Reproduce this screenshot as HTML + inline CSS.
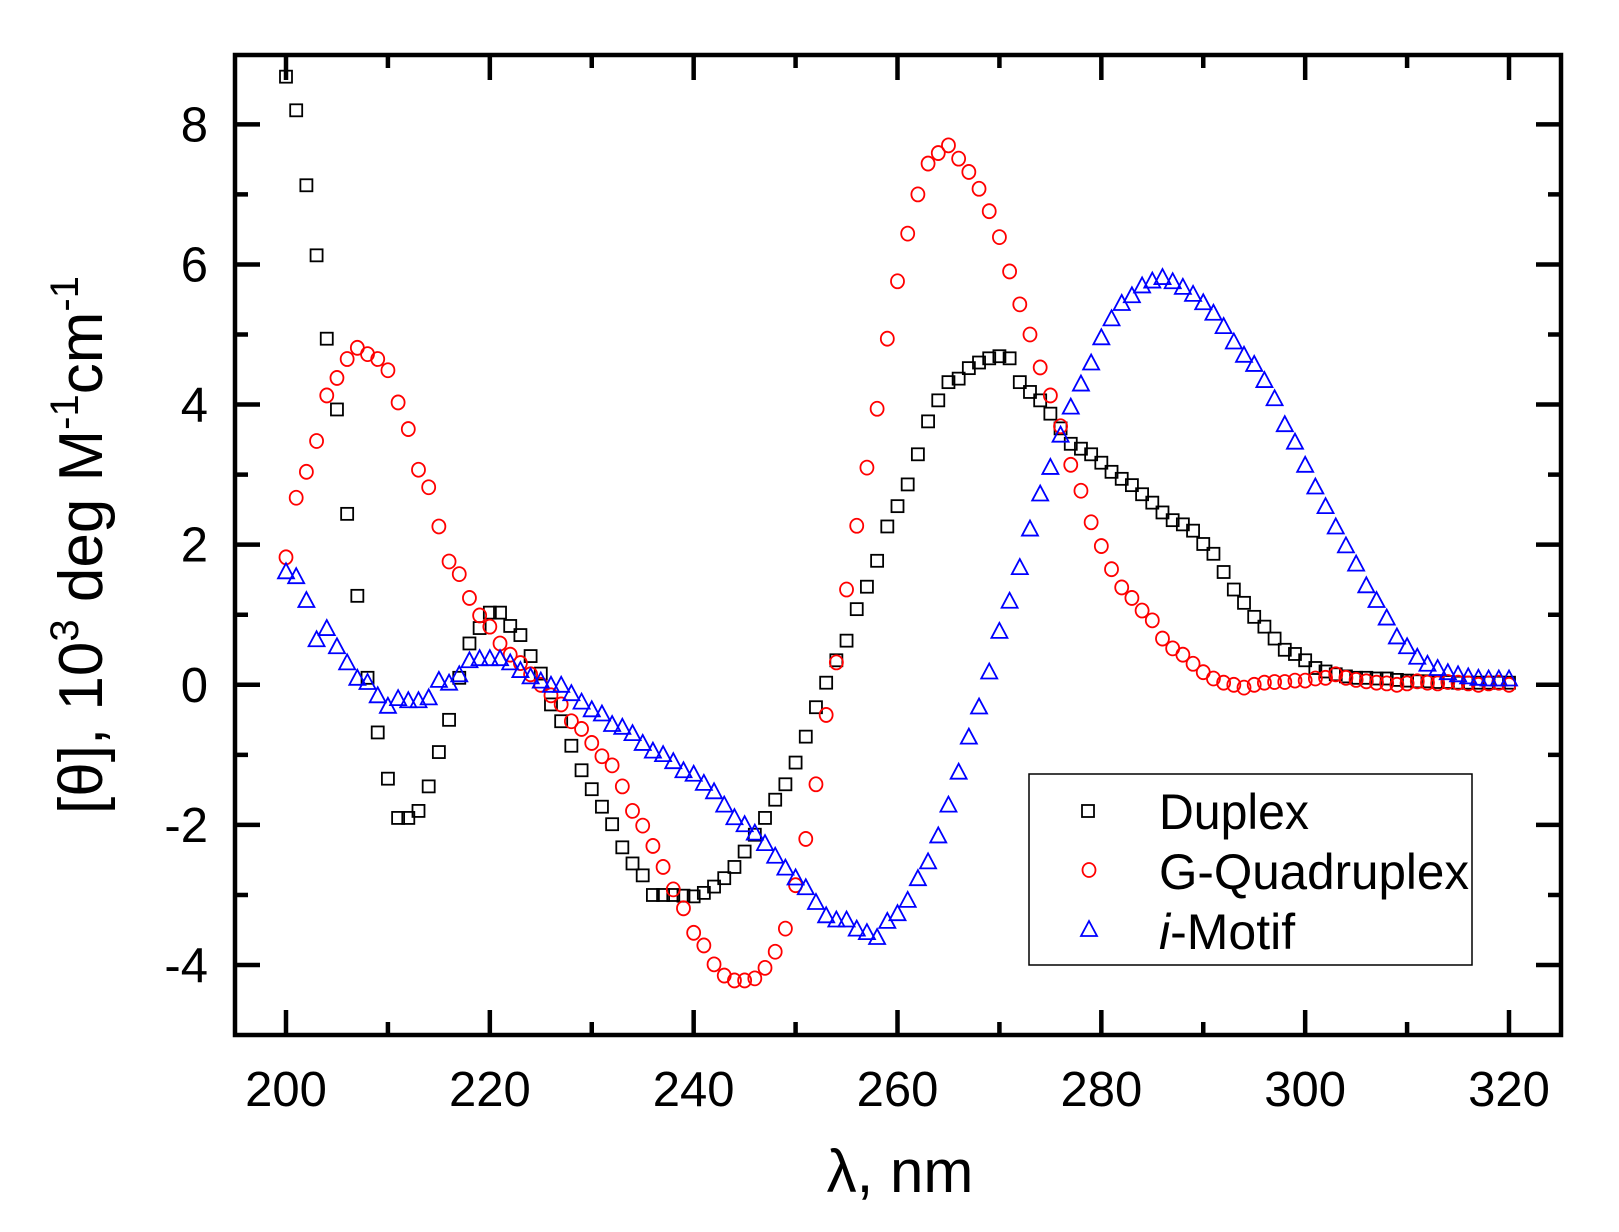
<!DOCTYPE html>
<html><head><meta charset="utf-8"><style>
html,body{margin:0;padding:0;background:#fff;}
svg{display:block;font-family:"Liberation Sans",Arial,sans-serif;}
</style></head><body>
<svg id="chart" width="1619" height="1232" viewBox="0 0 1619 1232" xmlns="http://www.w3.org/2000/svg">
<g id="marks"></g>
<g id="axes"></g>
<text x="900" y="1192" font-size="60" text-anchor="middle">λ, nm</text>
<text transform="translate(102,545) rotate(-90)" font-size="62" text-anchor="middle">[θ], 10<tspan font-size="40" dy="-24">3</tspan><tspan dy="24"> deg M</tspan><tspan font-size="40" dy="-24">-1</tspan><tspan dy="24">cm</tspan><tspan font-size="40" dy="-24">-1</tspan></text>
<g>
<rect x="1029" y="774" width="443" height="191" fill="none" stroke="#000" stroke-width="1.5"/>
<g>
<rect x="1082" y="805" width="12" height="12" fill="none" stroke="#000" stroke-width="1.8"/>
<text x="1159" y="829" font-size="50" textLength="150" lengthAdjust="spacingAndGlyphs">Duplex</text></g>
<g>
<ellipse cx="1089" cy="870" rx="6.5" ry="7" fill="none" stroke="#f00" stroke-width="1.8"/>
<text x="1159" y="889" font-size="50" textLength="310" lengthAdjust="spacingAndGlyphs">G-Quadruplex</text></g>
<g>
<polygon points="1089,921 1081,936 1097,936" fill="none" stroke="#00f" stroke-width="1.8"/>
<text x="1159" y="949" font-size="50"><tspan font-style="italic">i</tspan>-Motif</text></g>
</g>
</svg>
<script>
const wavelengths=[200,201,202,203,204,205,206,207,208,209,210,211,212,213,214,215,216,217,218,219,220,221,222,223,224,225,226,227,228,229,230,231,232,233,234,235,236,237,238,239,240,241,242,243,244,245,246,247,248,249,250,251,252,253,254,255,256,257,258,259,260,261,262,263,264,265,266,267,268,269,270,271,272,273,274,275,276,277,278,279,280,281,282,283,284,285,286,287,288,289,290,291,292,293,294,295,296,297,298,299,300,301,302,303,304,305,306,307,308,309,310,311,312,313,314,315,316,317,318,319,320];
const duplex=[8.68,8.2,7.13,6.13,4.94,3.93,2.44,1.27,0.1,-0.68,-1.34,-1.9,-1.9,-1.8,-1.45,-0.96,-0.5,0.1,0.59,0.81,1.03,1.03,0.84,0.71,0.41,0.16,-0.28,-0.52,-0.87,-1.22,-1.49,-1.74,-1.99,-2.32,-2.55,-2.72,-3.0,-3.0,-3.0,-3.01,-3.02,-2.97,-2.88,-2.76,-2.6,-2.38,-2.14,-1.9,-1.64,-1.42,-1.11,-0.74,-0.32,0.03,0.35,0.63,1.08,1.4,1.77,2.26,2.55,2.86,3.29,3.76,4.06,4.32,4.37,4.52,4.6,4.66,4.69,4.66,4.32,4.18,4.06,3.87,3.66,3.44,3.37,3.29,3.17,3.04,2.94,2.85,2.72,2.6,2.46,2.35,2.29,2.2,2.01,1.87,1.61,1.36,1.17,0.97,0.83,0.66,0.5,0.44,0.35,0.24,0.19,0.15,0.12,0.1,0.1,0.09,0.09,0.07,0.06,0.05,0.05,0.04,0.04,0.03,0.03,0.03,0.03,0.03,0.03];
const gquad=[1.82,2.67,3.04,3.48,4.13,4.38,4.65,4.81,4.72,4.65,4.49,4.03,3.65,3.07,2.82,2.26,1.76,1.58,1.24,0.99,0.83,0.59,0.43,0.31,0.15,0,-0.15,-0.28,-0.52,-0.63,-0.83,-1.02,-1.15,-1.45,-1.8,-2.01,-2.3,-2.6,-2.92,-3.19,-3.54,-3.72,-3.99,-4.15,-4.22,-4.22,-4.19,-4.04,-3.81,-3.48,-2.86,-2.2,-1.42,-0.43,0.32,1.36,2.27,3.1,3.94,4.94,5.76,6.44,7.0,7.44,7.59,7.7,7.51,7.32,7.08,6.76,6.39,5.9,5.43,5.0,4.53,4.13,3.69,3.14,2.77,2.32,1.98,1.65,1.39,1.24,1.06,0.92,0.66,0.52,0.43,0.3,0.18,0.09,0.03,0,-0.04,0,0.03,0.04,0.04,0.06,0.06,0.09,0.1,0.15,0.1,0.07,0.05,0.03,0.02,0.0,0.02,0.05,0.03,0.02,0.04,0.03,0.02,0.0,0.02,0.03,0.0];
const imotif=[1.62,1.55,1.21,0.65,0.81,0.55,0.32,0.1,0.04,-0.15,-0.3,-0.19,-0.22,-0.22,-0.18,0.07,0.03,0.15,0.35,0.38,0.38,0.38,0.32,0.21,0.12,0.06,0,0,-0.12,-0.24,-0.35,-0.41,-0.56,-0.6,-0.69,-0.83,-0.94,-0.99,-1.09,-1.22,-1.27,-1.4,-1.52,-1.71,-1.89,-1.99,-2.11,-2.26,-2.44,-2.61,-2.75,-2.89,-3.1,-3.29,-3.35,-3.35,-3.48,-3.53,-3.6,-3.37,-3.26,-3.07,-2.76,-2.52,-2.15,-1.71,-1.24,-0.74,-0.31,0.19,0.77,1.2,1.68,2.23,2.73,3.11,3.57,3.97,4.3,4.6,4.96,5.23,5.45,5.56,5.7,5.77,5.82,5.76,5.68,5.58,5.46,5.31,5.12,4.9,4.71,4.58,4.35,4.09,3.72,3.47,3.14,2.83,2.55,2.26,1.99,1.73,1.42,1.21,0.96,0.69,0.55,0.4,0.3,0.24,0.18,0.15,0.12,0.1,0.09,0.09,0.09];
const xTicks=[200,220,240,260,280,300,320];
const xMinor=[210,230,250,270,290,310];
const yTicks=[-4,-2,0,2,4,6,8];
const yMinor=[-3,-1,1,3,5,7];

const NS="http://www.w3.org/2000/svg";
const L=235,R=1561,T=55,B=1035;
function xs(v){return 286+(v-200)*(1509-286)/120;}
function ys(v){return 684.8-v*70.06;}
function mk(tag,attrs,parent){const e=document.createElementNS(NS,tag);for(const k in attrs)e.setAttribute(k,attrs[k]);parent.appendChild(e);return e;}
const marks=document.getElementById('marks');
const axes=document.getElementById('axes');

const gD=mk('g',{},marks);


const gG=mk('g',{},marks);


const gI=mk('g',{},marks);



wavelengths.forEach((w,i)=>{
  const x=xs(w);
  const s=mk('rect',{x:x-6,y:ys(duplex[i])-6,width:12,height:12,fill:'none',stroke:'#000','stroke-width':1.8},gD);
  
  
  const c=mk('ellipse',{cx:x,cy:ys(gquad[i]),rx:6.5,ry:7,fill:'none',stroke:'#f00','stroke-width':1.8},gG);
  
  
  const y=ys(imotif[i]);
  const t=mk('polygon',{points:`${x},${y-8} ${x-8},${y+7} ${x+8},${y+7}`,fill:'none',stroke:'#00f','stroke-width':1.8},gI);
  
  
});

const frame=mk('rect',{x:L,y:T,width:R-L,height:B-T,fill:'none',stroke:'#000','stroke-width':4.5},axes);


function tick(x1,y1,x2,y2){mk('line',{x1,y1,x2,y2,stroke:'#000','stroke-width':4.5},axes);}
xTicks.forEach(v=>{const x=xs(v);tick(x,B,x,B-25);tick(x,T,x,T+25);
  const tl=mk('text',{x:x,y:1106,'font-size':49,'text-anchor':'middle'},axes);tl.textContent=v;
  
  });
xMinor.forEach(v=>{const x=xs(v);tick(x,B,x,B-13);tick(x,T,x,T+13);});
yTicks.forEach(v=>{const y=ys(v);tick(L,y,L+25,y);tick(R,y,R-25,y);
  const tl=mk('text',{x:208,y:y+17,'font-size':49,'text-anchor':'end'},axes);tl.textContent=v;
  
  });
yMinor.forEach(v=>{const y=ys(v);tick(L,y,L+13,y);tick(R,y,R-13,y);});
</script>
</body></html>
